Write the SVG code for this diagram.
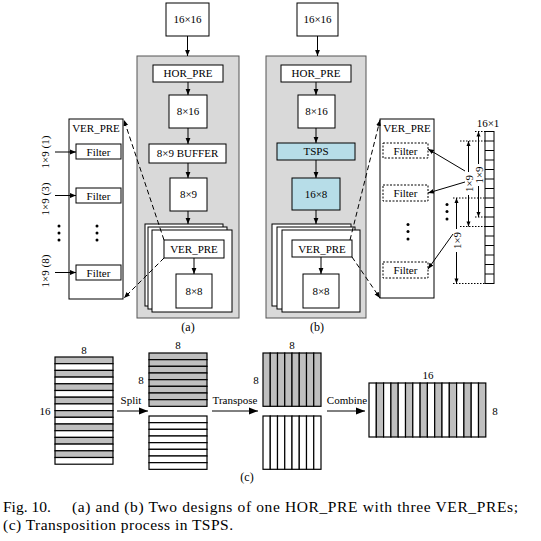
<svg xmlns="http://www.w3.org/2000/svg" width="541" height="541" viewBox="0 0 541 541">
<style>
text{font-family:"Liberation Serif","Times New Roman",serif;font-size:11px;fill:#000}
.m{text-anchor:middle}
.box{fill:#fff;stroke:#000;stroke-width:1}
.panel{fill:#d9d9d9;stroke:#555;stroke-width:1}
.blue{fill:#b7dde8;stroke:#000;stroke-width:1}
.ln{stroke:#000;stroke-width:1;fill:none}
.dash{stroke:#000;stroke-width:1;fill:none;stroke-dasharray:5,3}
.dot{stroke:#000;stroke-width:1;fill:none;stroke-dasharray:1.5,1.5}
.dashbox{fill:#fff;stroke:#000;stroke-width:1;stroke-dasharray:2,1.5}
.g{fill:#bfbfbf;stroke:#000;stroke-width:1.2}
.w{fill:#fff;stroke:#000;stroke-width:1.2}
.cap{font-size:15.5px}
</style>
<defs>
<marker id="ah" viewBox="0 0 10 10" refX="10" refY="5" markerWidth="6" markerHeight="6" markerUnits="userSpaceOnUse" orient="auto"><path d="M0,1 L10,5 L0,9 z" fill="#000"/></marker>
<marker id="ab" viewBox="0 0 10 10" refX="10" refY="5" markerWidth="10" markerHeight="9" markerUnits="userSpaceOnUse" orient="auto"><path d="M0,1 L10,5 L0,9 z" fill="#000"/></marker>
<marker id="ad" viewBox="0 0 10 10" refX="10" refY="5" markerWidth="6" markerHeight="5" markerUnits="userSpaceOnUse" orient="auto-start-reverse"><path d="M0,1 L10,5 L0,9 z" fill="#000"/></marker>
</defs>

<!-- (a) -->
<g id="a-input"><rect class="box" x="166" y="3" width="43" height="33"/><text class="m" x="187.5" y="23">16×16</text></g>
<g id="a-panel"><rect class="panel" x="137" y="56" width="102" height="262"/></g>
<g id="a-horpre"><rect class="box" x="153" y="65" width="70" height="17"/><text class="m" x="188" y="77">HOR_PRE</text></g>
<g id="a-8x16"><rect class="box" x="169" y="95" width="38" height="33"/><text class="m" x="188" y="115">8×16</text></g>
<g id="a-buffer"><rect class="box" x="149" y="144" width="77" height="19"/><text class="m" x="187.5" y="157">8×9 BUFFER</text></g>
<g id="a-8x9"><rect class="box" x="170" y="178" width="37" height="33"/><text class="m" x="188.5" y="198">8×9</text></g>
<g id="a-stack">
<rect class="box" x="145" y="224" width="78" height="82"/>
<rect class="box" x="148" y="227" width="79" height="82"/>
<rect class="box" x="152" y="230" width="80" height="82"/>
<rect class="box" x="164" y="240" width="60" height="18"/><text class="m" x="194" y="253">VER_PRE</text>
<rect class="box" x="176" y="274" width="36" height="34"/><text class="m" x="194" y="295">8×8</text>
</g>
<text id="a-label" class="m" x="188" y="331" style="font-size:12px">(a)</text>

<g id="a-verpre">
<rect class="box" x="69" y="119" width="54" height="180"/>
<text class="m" x="96" y="132">VER_PRE</text>
<rect class="box" x="76" y="144" width="45" height="15"/><text class="m" x="98.5" y="155.5">Filter</text>
<rect class="box" x="76" y="188" width="45" height="15"/><text class="m" x="98.5" y="199.5">Filter</text>
<rect class="box" x="76" y="265" width="45" height="15"/><text class="m" x="98.5" y="276.5">Filter</text>
<circle cx="97" cy="226" r="1.5"/><circle cx="97" cy="233" r="1.5"/><circle cx="97" cy="240" r="1.5"/>
</g>
<g id="a-inputs">
<text class="m" transform="translate(45,152) rotate(-90)" y="4">1×9 (1)</text>
<text class="m" transform="translate(45,199) rotate(-90)" y="4">1×9 (3)</text>
<text class="m" transform="translate(45,271) rotate(-90)" y="4">1×9 (8)</text>
<circle cx="59" cy="226" r="1.5"/><circle cx="59" cy="233" r="1.5"/><circle cx="59" cy="240" r="1.5"/>
</g>

<!-- (b) -->
<g id="b-input"><rect class="box" x="297" y="3" width="41" height="33"/><text class="m" x="317.5" y="23">16×16</text></g>
<g id="b-panel"><rect class="panel" x="266" y="56" width="100" height="262"/></g>
<g id="b-horpre"><rect class="box" x="281" y="65" width="70" height="17"/><text class="m" x="316" y="77">HOR_PRE</text></g>
<g id="b-8x16"><rect class="box" x="298" y="95" width="37" height="33"/><text class="m" x="316.5" y="115">8×16</text></g>
<g id="b-tsps"><rect class="blue" x="277" y="143" width="78" height="17"/><text class="m" x="316" y="155">TSPS</text></g>
<g id="b-16x8"><rect class="blue" x="292" y="178" width="48" height="32"/><text class="m" x="316" y="198">16×8</text></g>
<g id="b-stack">
<rect class="box" x="272" y="224" width="79" height="82"/>
<rect class="box" x="277" y="227" width="78" height="82"/>
<rect class="box" x="282" y="230" width="78" height="82"/>
<rect class="box" x="292" y="240" width="60" height="17"/><text class="m" x="322" y="252.5">VER_PRE</text>
<rect class="box" x="303" y="274" width="36" height="34"/><text class="m" x="321" y="295">8×8</text>
</g>
<text id="b-label" class="m" x="317" y="331" style="font-size:12px">(b)</text>

<g id="b-verpre">
<rect class="box" x="380" y="119" width="54" height="179"/>
<text class="m" x="407" y="132">VER_PRE</text>
<rect class="dashbox" x="383" y="143" width="45" height="15"/><text class="m" x="405.5" y="154.5">Filter</text>
<rect class="dashbox" x="383" y="185" width="45" height="16"/><text class="m" x="405.5" y="197">Filter</text>
<rect class="dashbox" x="383" y="262" width="45" height="16"/><text class="m" x="405.5" y="274">Filter</text>
<circle cx="408" cy="224.5" r="1.5"/><circle cx="408" cy="231.5" r="1.5"/><circle cx="408" cy="239" r="1.5"/>
<circle cx="447" cy="204.5" r="1.5"/><circle cx="447" cy="211.5" r="1.5"/><circle cx="447" cy="219" r="1.5"/>
</g>
<g id="b-column">
<text class="m" x="488" y="127">16×1</text>
<rect class="box" x="485" y="131.5" width="9" height="152"/>
<path class="ln" d="M485,141H494M485,150.5H494M485,160H494M485,169.5H494M485,179H494M485,188.5H494M485,198H494M485,207.5H494M485,217H494M485,226.5H494M485,236H494M485,245.5H494M485,255H494M485,264.5H494M485,274H494"/>
</g>
<g id="b-dims">
<path class="dot" d="M475,131.5H485M475,217H485M460,141H485M460,226.5H485M453,198H485M453,283.5H485"/>
<line class="ln" x1="478.5" y1="164" x2="478.5" y2="131.5" marker-end="url(#ad)"/>
<line class="ln" x1="478.5" y1="186" x2="478.5" y2="217" marker-end="url(#ad)"/>
<line class="ln" x1="468.5" y1="172" x2="468.5" y2="141" marker-end="url(#ad)"/>
<line class="ln" x1="468.5" y1="195" x2="468.5" y2="226.5" marker-end="url(#ad)"/>
<line class="ln" x1="456.5" y1="229" x2="456.5" y2="198" marker-end="url(#ad)"/>
<line class="ln" x1="456.5" y1="252" x2="456.5" y2="283.5" marker-end="url(#ad)"/>
<text class="m" transform="translate(478.5,175) rotate(-90)" y="4">1×9</text>
<text class="m" transform="translate(468.5,183.5) rotate(-90)" y="4">1×9</text>
<text class="m" transform="translate(456.5,240.5) rotate(-90)" y="4">1×9</text>
</g>

<!-- connectors -->
<g id="connectors">
<line class="ln" x1="187.5" y1="36" x2="187.5" y2="56" marker-end="url(#ah)"/>
<line class="ln" x1="188" y1="82" x2="188" y2="95" marker-end="url(#ah)"/>
<line class="ln" x1="188" y1="128" x2="188" y2="144" marker-end="url(#ah)"/>
<line class="ln" x1="188" y1="163" x2="188" y2="178" marker-end="url(#ah)"/>
<line class="ln" x1="188" y1="211" x2="188" y2="224" marker-end="url(#ah)"/>
<line class="ln" x1="194" y1="258" x2="194" y2="274" marker-end="url(#ah)"/>
<line class="ln" x1="55" y1="152" x2="76" y2="152" marker-end="url(#ah)"/>
<line class="ln" x1="55" y1="195.5" x2="76" y2="195.5" marker-end="url(#ah)"/>
<line class="ln" x1="55" y1="272.5" x2="76" y2="272.5" marker-end="url(#ah)"/>
<line class="dash" x1="164" y1="240" x2="124" y2="120" marker-end="url(#ah)"/>
<line class="dash" x1="164" y1="258" x2="124" y2="298" marker-end="url(#ah)"/>

<line class="ln" x1="317.5" y1="36" x2="317.5" y2="56" marker-end="url(#ah)"/>
<line class="ln" x1="316" y1="82" x2="316" y2="95" marker-end="url(#ah)"/>
<line class="ln" x1="316" y1="128" x2="316" y2="143" marker-end="url(#ah)"/>
<line class="ln" x1="316" y1="160" x2="316" y2="178" marker-end="url(#ah)"/>
<line class="ln" x1="316" y1="210" x2="316" y2="224" marker-end="url(#ah)"/>
<line class="ln" x1="321" y1="257" x2="321" y2="274" marker-end="url(#ah)"/>
<line class="dash" x1="350" y1="240" x2="380" y2="120" marker-end="url(#ah)"/>
<line class="dash" x1="352" y1="257" x2="380" y2="298" marker-end="url(#ah)"/>
<line class="ln" x1="465" y1="171" x2="428" y2="149" marker-end="url(#ah)"/>
<line class="ln" x1="465" y1="182" x2="428" y2="193" marker-end="url(#ah)"/>
<line class="ln" x1="453" y1="234" x2="428" y2="269" marker-end="url(#ah)"/>
</g>

<!-- (c) -->
<g id="c-orig">
<text class="m" x="84" y="354">8</text>
<text class="m" x="45" y="415">16</text>
<rect class="g" x="55" y="357" width="58" height="6.7"/><rect class="w" x="55" y="363.7" width="58" height="6.7"/>
<rect class="g" x="55" y="370.4" width="58" height="6.7"/><rect class="w" x="55" y="377.1" width="58" height="6.7"/>
<rect class="g" x="55" y="383.8" width="58" height="6.7"/><rect class="w" x="55" y="390.5" width="58" height="6.7"/>
<rect class="g" x="55" y="397.2" width="58" height="6.7"/><rect class="w" x="55" y="403.9" width="58" height="6.7"/>
<rect class="g" x="55" y="410.6" width="58" height="6.7"/><rect class="w" x="55" y="417.3" width="58" height="6.7"/>
<rect class="g" x="55" y="424" width="58" height="6.7"/><rect class="w" x="55" y="430.7" width="58" height="6.7"/>
<rect class="g" x="55" y="437.4" width="58" height="6.7"/><rect class="w" x="55" y="444.1" width="58" height="6.7"/>
<rect class="g" x="55" y="450.8" width="58" height="6.7"/><rect class="w" x="55" y="457.5" width="58" height="6.7"/>
</g>
<g id="c-split">
<text class="m" x="178" y="349">8</text>
<text class="m" x="141" y="384">8</text>
<rect class="g" x="149" y="353" width="58" height="6.67"/><rect class="g" x="149" y="359.67" width="58" height="6.67"/>
<rect class="g" x="149" y="366.33" width="58" height="6.67"/><rect class="g" x="149" y="373" width="58" height="6.67"/>
<rect class="g" x="149" y="379.67" width="58" height="6.67"/><rect class="g" x="149" y="386.33" width="58" height="6.67"/>
<rect class="g" x="149" y="393" width="58" height="6.67"/><rect class="g" x="149" y="399.67" width="58" height="6.67"/>
<rect class="w" x="149" y="416" width="58" height="6.67"/><rect class="w" x="149" y="422.67" width="58" height="6.67"/>
<rect class="w" x="149" y="429.33" width="58" height="6.67"/><rect class="w" x="149" y="436" width="58" height="6.67"/>
<rect class="w" x="149" y="442.67" width="58" height="6.67"/><rect class="w" x="149" y="449.33" width="58" height="6.67"/>
<rect class="w" x="149" y="456" width="58" height="6.67"/><rect class="w" x="149" y="462.67" width="58" height="6.67"/>
</g>
<g id="c-transposed">
<text class="m" x="292" y="349">8</text>
<text class="m" x="256" y="384">8</text>
<rect class="g" x="263" y="353" width="7.25" height="53.3"/><rect class="g" x="270.25" y="353" width="7.25" height="53.3"/>
<rect class="g" x="277.5" y="353" width="7.25" height="53.3"/><rect class="g" x="284.75" y="353" width="7.25" height="53.3"/>
<rect class="g" x="292" y="353" width="7.25" height="53.3"/><rect class="g" x="299.25" y="353" width="7.25" height="53.3"/>
<rect class="g" x="306.5" y="353" width="7.25" height="53.3"/><rect class="g" x="313.75" y="353" width="7.25" height="53.3"/>
<rect class="w" x="263" y="416" width="7.25" height="53.3"/><rect class="w" x="270.25" y="416" width="7.25" height="53.3"/>
<rect class="w" x="277.5" y="416" width="7.25" height="53.3"/><rect class="w" x="284.75" y="416" width="7.25" height="53.3"/>
<rect class="w" x="292" y="416" width="7.25" height="53.3"/><rect class="w" x="299.25" y="416" width="7.25" height="53.3"/>
<rect class="w" x="306.5" y="416" width="7.25" height="53.3"/><rect class="w" x="313.75" y="416" width="7.25" height="53.3"/>
</g>
<g id="c-combined">
<text class="m" x="428" y="379">16</text>
<text class="m" x="495" y="415">8</text>
<rect class="w" x="369" y="383" width="7.3" height="54"/><rect class="g" x="376.3" y="383" width="7.3" height="54"/>
<rect class="w" x="383.6" y="383" width="7.3" height="54"/><rect class="g" x="390.9" y="383" width="7.3" height="54"/>
<rect class="w" x="398.2" y="383" width="7.3" height="54"/><rect class="g" x="405.5" y="383" width="7.3" height="54"/>
<rect class="w" x="412.8" y="383" width="7.3" height="54"/><rect class="g" x="420.1" y="383" width="7.3" height="54"/>
<rect class="w" x="427.4" y="383" width="7.3" height="54"/><rect class="g" x="434.7" y="383" width="7.3" height="54"/>
<rect class="w" x="442" y="383" width="7.3" height="54"/><rect class="g" x="449.3" y="383" width="7.3" height="54"/>
<rect class="w" x="456.6" y="383" width="7.3" height="54"/><rect class="g" x="463.9" y="383" width="7.3" height="54"/>
<rect class="w" x="471.2" y="383" width="7.3" height="54"/><rect class="g" x="478.5" y="383" width="7.3" height="54"/>
</g>
<g id="c-arrows">
<line class="ln" x1="117" y1="411" x2="148" y2="411" marker-end="url(#ab)"/>
<text class="m" x="131" y="404">Split</text>
<line class="ln" x1="212" y1="411" x2="258" y2="411" marker-end="url(#ab)"/>
<text class="m" x="235" y="404">Transpose</text>
<line class="ln" x1="327" y1="411" x2="365" y2="411" marker-end="url(#ab)"/>
<text class="m" x="347" y="404">Combine</text>
</g>
<text id="c-label" class="m" x="247" y="481" style="font-size:12px">(c)</text>

<g id="caption">
<text class="cap" x="3" y="512">Fig. 10.</text>
<text class="cap" x="72" y="512" textLength="446" lengthAdjust="spacing">(a) and (b) Two designs of one HOR_PRE with three VER_PREs;</text>
<text class="cap" x="3" y="530" textLength="230" lengthAdjust="spacing">(c) Transposition process in TSPS.</text>
</g>
</svg>
